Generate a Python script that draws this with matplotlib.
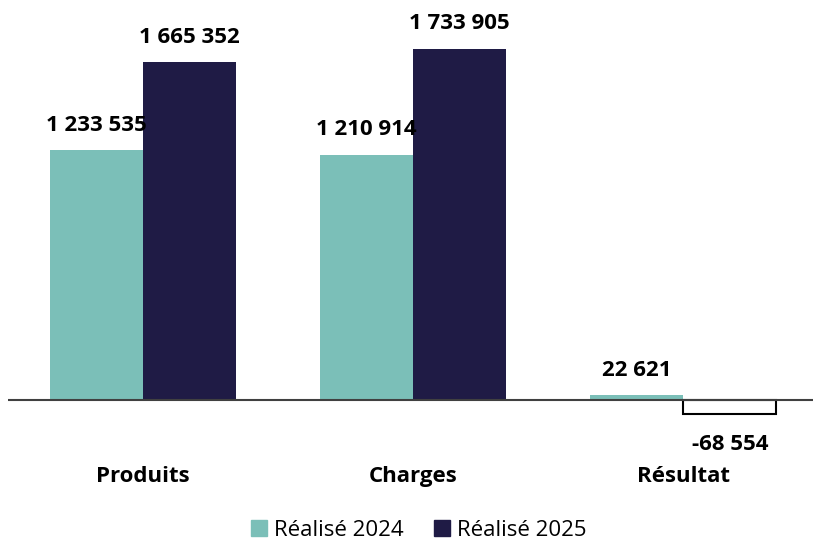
import numpy as np
import matplotlib
matplotlib.use("Agg")
import matplotlib.pyplot as plt
from matplotlib.patches import Patch

plt.rcParams['font.family'] = ['Open Sans', 'DejaVu Sans']

categories = ['Produits', 'Charges', 'Résultat']
real_2024 = [1233535, 1210914, 22621]
real_2025 = [1665352, 1733905, -68554]
series_names = ['Réalisé 2024', 'Réalisé 2025']

teal = '#7bbfb8'
navy = '#1f1b45'

def fmt(v):
    return f"{v:,}".replace(',', ' ')

fig = plt.figure(figsize=(8.13, 5.39), dpi=100)
ax = fig.add_axes([8 / 813, (539 - 440) / 539, 1 - 8 / 813, 440 / 539])

x = np.arange(len(categories))
w = 0.344
b1 = ax.bar(x - w / 2, real_2024, w, color=teal, zorder=2)
colors_2025 = [navy if v >= 0 else 'white' for v in real_2025]
edges_2025 = [navy if v >= 0 else 'black' for v in real_2025]
b2 = ax.bar(x + w / 2, real_2025, w, color=colors_2025, edgecolor=edges_2025,
            linewidth=[0 if v >= 0 else 1.5 for v in real_2025], zorder=2)

ax.axhline(0, color='#404040', lw=1.5, zorder=3)

for bars, vals in ((b1, real_2024), (b2, real_2025)):
    for r, v in zip(bars, vals):
        cx = r.get_x() + r.get_width() / 2
        if v >= 0:
            ax.annotate(fmt(v), (cx, v), xytext=(0, 14), textcoords='offset points',
                        ha='center', va='baseline', fontsize=16, fontweight='bold')
        else:
            ax.annotate(fmt(v), (cx, v), xytext=(0, -26), textcoords='offset points',
                        ha='center', va='baseline', fontsize=16, fontweight='bold')

ax.set_xlim(-0.5, 2.48)
scale = 250 / 1233535
ax.set_ylim(-40 / scale, 400 / scale)

for s in ax.spines.values():
    s.set_visible(False)
ax.set_yticks([])
ax.set_xticks(x)
ax.set_xticklabels(categories, fontsize=16, fontweight='bold')
ax.tick_params(axis='x', length=0, pad=19)

handles = [Patch(color=teal), Patch(color=navy)]
fig.legend(handles, series_names, loc='lower center', bbox_to_anchor=(0.515, -0.04),
           ncol=2, frameon=False, fontsize=16, handlelength=0.7, handleheight=0.7,
           handletextpad=0.3, columnspacing=1.4)

fig.savefig('out.png', dpi=100)
